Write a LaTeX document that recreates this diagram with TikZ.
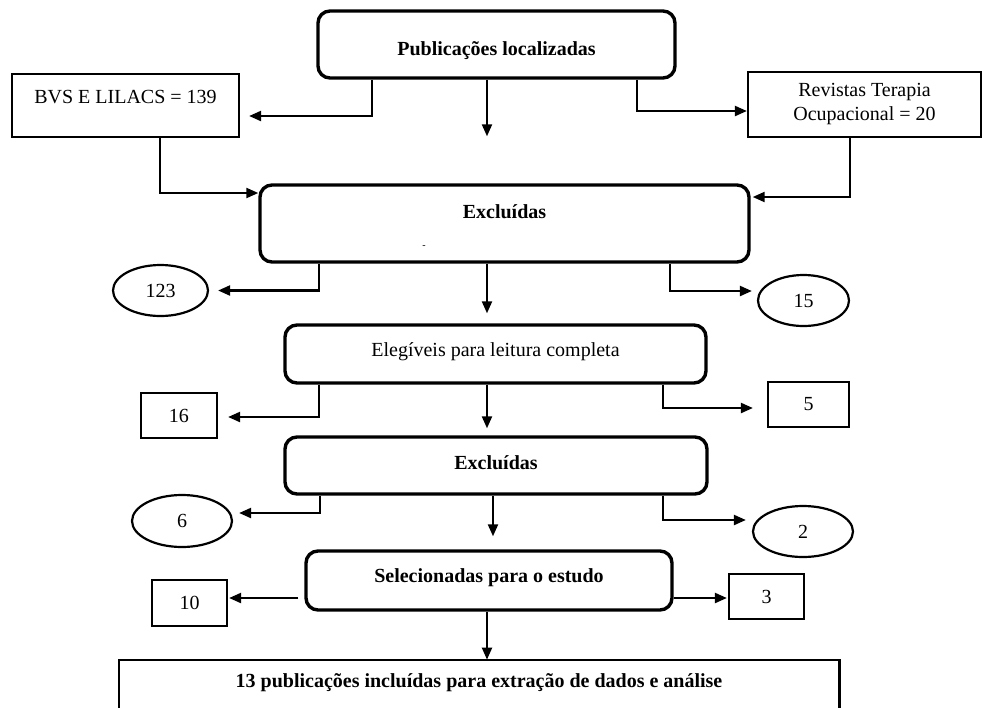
\documentclass[tikz,border=0pt]{standalone}
\usepackage{fontspec}
\setmainfont{Liberation Serif}
\usepackage{tikz}
\usetikzlibrary{shapes.geometric, arrows.meta}
\tikzstyle{stage} = [rectangle, rounded corners=6pt, line width=1.7pt, draw=black, inner sep=0pt, text centered, font=\bfseries]
\tikzstyle{stageplain} = [stage, font=\mdseries]
\tikzstyle{source} = [rectangle, line width=1.1pt, draw=black, inner sep=0pt, align=center]
\tikzstyle{countbox} = [rectangle, line width=1.1pt, draw=black, inner sep=0pt, minimum height=22.5pt]
\tikzstyle{countoval} = [ellipse, line width=1.1pt, draw=black, inner sep=0pt, minimum height=25.5pt]
\tikzstyle{arrow} = [line width=1.1pt, -{Triangle[length=6pt,width=5pt]}]

\begin{document}
\begin{tikzpicture}[x=0.5pt, y=-0.5pt]
\useasboundingbox (0,0) rectangle (982,708);
\coordinate (spine) at (487,0);
\coordinate (spinetwo) at (493,0);

\node (pub) [stage, minimum width=178.5pt, minimum height=33.5pt, text height=13pt, text depth=2pt] at (496.5,44.5) {Publicações localizadas};
\node (bvs) [source, minimum width=113.5pt, minimum height=31.5pt, text height=7pt, text depth=8.9pt] at (125.5,105.5) {BVS E LILACS = 139};
\node (rev) [source, minimum width=116.5pt, minimum height=32.5pt] at (864.5,104.5) {Revistas Terapia\\Ocupacional = 20};
\node (exc1) [stage, minimum width=244.5pt, minimum height=38.5pt, text height=7pt, text depth=11.9pt] at (504.5,223.5) {Excluídas};
\node (mark) [inner sep=0pt, font=\tiny] at (424,247) {-};
\node (o123) [countoval, minimum width=47.5pt] at (160.5,290.5) {123};
\node (o15) [countoval, minimum width=45.5pt] at (803.5,300.5) {15};
\node (eleg) [stageplain, minimum width=210.5pt, minimum height=29pt, text height=7pt, text depth=4.4pt] at (495.5,354) {Elegíveis para leitura completa};
\node (b16) [countbox, minimum width=38pt] at (179,415.5) {16};
\node (b5) [countbox, minimum width=40.5pt] at (808.5,404.5) {5};
\node (exc2) [stage, minimum width=211pt, minimum height=28.5pt, text height=7pt, text depth=2.9pt] at (496,465.5) {Excluídas};
\node (o6) [countoval, minimum width=50pt, minimum height=26pt] at (182,521) {6};
\node (o2) [countoval, minimum width=50pt] at (803,531.5) {2};
\node (sel) [stage, minimum width=183pt, minimum height=29.5pt, text height=7pt, text depth=4.9pt] at (489,580.5) {Selecionadas para o estudo};
\node (b10) [countbox, minimum width=37.5pt, minimum height=23pt] at (189.5,603) {10};
\node (b3) [countbox, minimum width=37.5pt] at (766.5,596.5) {3};
\node (fin) [inner sep=0pt, minimum width=360pt, minimum height=23pt, font=\bfseries] at (479,683) {13 publicações incluídas para extração de dados e análise};
\draw [line width=1.1pt] ([yshift=-10pt]fin.south west) -- (fin.north west) -- (fin.north east) -- ([yshift=-10pt]fin.south east);

\draw [arrow] ([shift={(-124.5,0)}]pub.south) |- ([shift={(9,10.5)}]bvs.east);
\draw [arrow, shorten >=23.5pt] (pub.south -| spine) -- (exc1.north -| spine);
\draw [arrow] ([shift={(140.5,0)}]pub.south) |- ([shift={(0,6.5)}]rev.west);
\draw [arrow] ([shift={(34.5,0)}]bvs.south) |- ([shift={(0,-30.5)}]exc1.west);
\draw [arrow] ([shift={(-14.5,0)}]rev.south) |- ([shift={(2,-26.5)}]exc1.east);

\draw [arrow] ([shift={(-185.5,0)}]exc1.south) |- ([shift={(9,0)}]o123.east);
\draw [arrow, shorten >=5pt] (exc1.south -| spine) -- (eleg.north -| spine);
\draw [arrow] ([shift={(165.5,0)}]exc1.south) |- ([shift={(-5,-9.5)}]o15.west);

\draw [arrow] ([shift={(-176.5,0)}]eleg.south) |- ([shift={(10,1.5)}]b16.east);
\draw [arrow, shorten >=3.5pt] (eleg.south -| spine) -- (exc2.north -| spine);
\draw [arrow] ([shift={(167.5,0)}]eleg.south) |- ([shift={(-14,3.5)}]b5.west);

\draw [arrow] ([shift={(-176,0)}]exc2.south) |- ([shift={(6,-8)}]o6.east);
\draw [arrow, shorten >=6.5pt] (exc2.south -| spinetwo) -- (sel.north -| spinetwo);
\draw [arrow] ([shift={(167,0)}]exc2.south) |- ([shift={(-6,-11.5)}]o2.west);

\draw [arrow] ([shift={(-6,17.5)}]sel.west) -- ([shift={(1,-5)}]b10.east);
\draw [arrow] ([shift={(0,17.5)}]sel.east) -- ([shift={(-1,1.5)}]b3.west);
\draw [arrow] (sel.south -| spine) -- (fin.north -| spine);
\end{tikzpicture}
\end{document}
